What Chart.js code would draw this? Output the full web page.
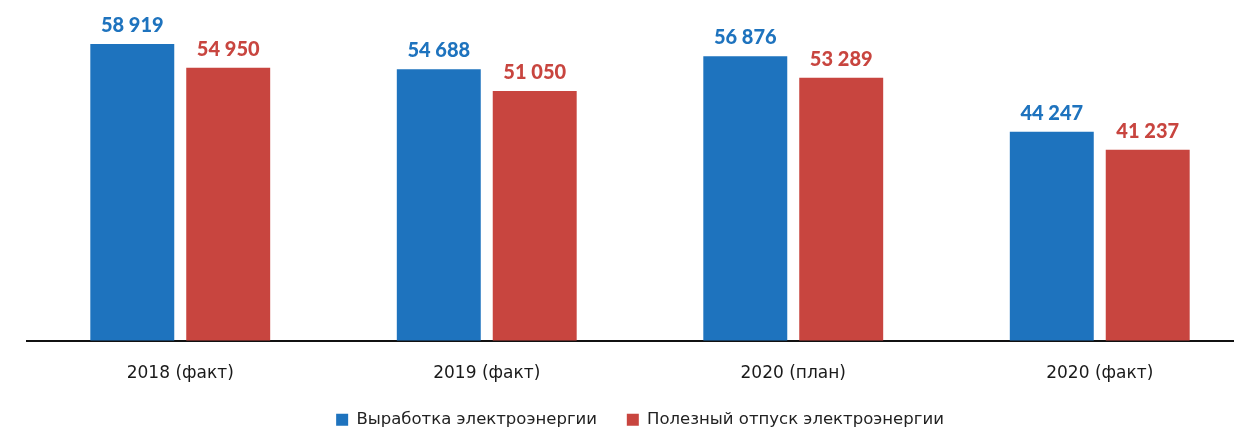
<!DOCTYPE html>
<html>
<head>
<meta charset="utf-8">
<script src="https://cdn.jsdelivr.net/npm/chart.js@4"></script>
<style>
  html, body { margin: 0; padding: 0; background: #fff; overflow: hidden; width: 1234px; height: 430px; }
  #wrap { position: relative; width: 1234px; height: 430px; overflow: hidden; }
  canvas { display: block; }
</style>
</head>
<body>
<div id="wrap"><canvas id="energyChart" width="1253" height="438"></canvas></div>
<script>
// данные
const categories = ['2018 (факт)', '2019 (факт)', '2020 (план)', '2020 (факт)'];
const seriesNames = ['Выработка электроэнергии', 'Полезный отпуск электроэнергии'];
const generation = [58919, 54688, 56876, 44247];
const usefulSupply = [54950, 51050, 53289, 41237];

const BLUE = '#1e73be';
const RED = '#c8453f';

// 58919 -> "58 919"
function formatValue(v) {
  return String(v).replace(/\B(?=(\d{3})+(?!\d))/g, ' ');
}

// подписи над столбцами
const valueLabels = {
  id: 'valueLabels',
  afterDatasetsDraw(chart) {
    const ctx = chart.ctx;
    ctx.save();
    ctx.font = '900 20px Lato';
    ctx.textAlign = 'center';
    ctx.textBaseline = 'alphabetic';
    chart.data.datasets.forEach((ds, i) => {
      const meta = chart.getDatasetMeta(i);
      ctx.fillStyle = ds.backgroundColor;
      meta.data.forEach((bar, j) => {
        ctx.fillText(formatValue(ds.data[j]), bar.x, bar.y - 12);
      });
    });
    ctx.restore();
  }
};

const ctx = document.getElementById('energyChart').getContext('2d');
new Chart(ctx, {
  type: 'bar',
  data: {
    labels: categories,
    datasets: [
      {
        label: seriesNames[0],
        data: generation,
        backgroundColor: BLUE,
        categoryPercentage: 0.626,
        barPercentage: 0.875,
      },
      {
        label: seriesNames[1],
        data: usefulSupply,
        backgroundColor: RED,
        categoryPercentage: 0.626,
        barPercentage: 0.875,
      },
    ],
  },
  options: {
    responsive: false,
    animation: false,
    devicePixelRatio: 1,
    layout: { padding: { left: 27, right: 0, top: 0, bottom: 0 } },
    plugins: {
      tooltip: { enabled: false },
      legend: {
        position: 'bottom',
        labels: {
          boxWidth: 12,
          boxHeight: 12,
          padding: 10,
          color: '#222',
          font: { family: 'DejaVu Sans', size: 16.5 },
          // лишние пробелы, чтобы раздвинуть элементы легенды
          generateLabels(chart) {
            const items = Chart.defaults.plugins.legend.labels.generateLabels(chart);
            items.forEach((it, i) => {
              it.lineWidth = 0;
              if (i === 0) it.text = it.text + '\u2003\u2009';
            });
            return items;
          },
        },
      },
    },
    scales: {
      x: {
        offset: true,
        grid: { display: false, drawTicks: false },
        border: { display: true, color: '#111', width: 2 },
        ticks: {
          padding: 23,
          color: '#1a1a1a',
          font: { family: 'DejaVu Sans', size: 17 },
        },
        afterFit(scale) { scale.height = 61; },
      },
      y: {
        display: false,
        min: 9380,
        max: 66260,
      },
    },
  },
  plugins: [valueLabels],
});
</script>
</body>
</html>
